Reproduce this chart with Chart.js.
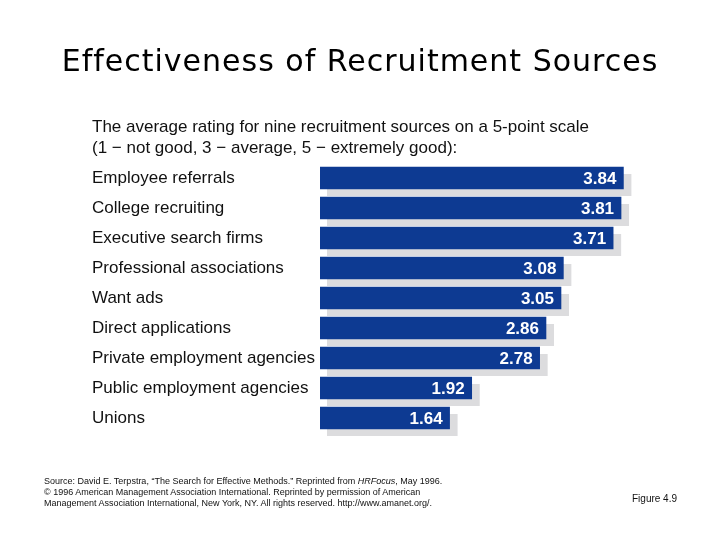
<!DOCTYPE html>
<html>
<head>
<meta charset="utf-8">
<script src="https://cdn.jsdelivr.net/npm/chart.js@4"></script>
<style>
    body { margin: 0; background: #fff; }
    #wrap { position: relative; width: 720px; height: 540px; overflow: hidden; }
    #myChart { position: absolute; left: 0; top: 0; }
    .txt { position: absolute; white-space: nowrap; color: #111; }
    #title { left: 0; width: 720px; top: 43px; text-align: center; font: 30px "DejaVu Sans", sans-serif; letter-spacing: 1px; color: #000; }
    #subtitle { left: 92px; top: 116px; font: 17px "Liberation Sans", Arial, sans-serif; line-height: 21px; }
    #source { left: 44px; top: 476px; font: 9px "Liberation Sans", Arial, sans-serif; line-height: 11px; }
    #figure { left: 632px; top: 493px; font: 10px "Liberation Sans", Arial, sans-serif; }
</style>
</head>
<body>
<div id="wrap">
    <canvas id="myChart" width="720" height="540"></canvas>
    <div class="txt" id="title">Effectiveness of Recruitment Sources</div>
    <div class="txt" id="subtitle">The average rating for nine recruitment sources on a 5-point scale<br>(1 &minus; not good, 3 &minus; average, 5 &minus; extremely good):</div>
    <div class="txt" id="source">Source: David E. Terpstra, &ldquo;The Search for Effective Methods.&rdquo; Reprinted from <i>HRFocus</i>, May 1996.<br>&copy; 1996 American Management Association International. Reprinted by permission of American<br>Management Association International, New York, NY. All rights reserved. http://www.amanet.org/.</div>
    <div class="txt" id="figure">Figure 4.9</div>
</div>
<script>
// Chart data
const sources = [
    'Employee referrals',
    'College recruiting',
    'Executive search firms',
    'Professional associations',
    'Want ads',
    'Direct applications',
    'Private employment agencies',
    'Public employment agencies',
    'Unions'
];
const ratings = [3.84, 3.81, 3.71, 3.08, 3.05, 2.86, 2.78, 1.92, 1.64];

// Gray drop shadow behind each bar
const shadowPlugin = {
    id: 'barShadow',
    beforeDatasetsDraw(chart) {
        const ctx = chart.ctx;
        ctx.save();
        ctx.fillStyle = '#dcdcde';
        chart.getDatasetMeta(0).data.forEach(bar => {
            const h = bar.height;
            ctx.fillRect(bar.base + 7, bar.y - h / 2 + 7, bar.x - bar.base + 1, h);
        });
        ctx.restore();
    }
};

// White value labels inside the bar ends
const valuePlugin = {
    id: 'barValues',
    afterDatasetsDraw(chart) {
        const ctx = chart.ctx;
        ctx.save();
        ctx.fillStyle = '#ffffff';
        ctx.font = 'bold 17px "Liberation Sans", Arial, sans-serif';
        ctx.textAlign = 'right';
        ctx.textBaseline = 'middle';
        chart.getDatasetMeta(0).data.forEach((bar, i) => {
            ctx.fillText(ratings[i].toFixed(2), bar.x - 7, bar.y + 1);
        });
        ctx.restore();
    }
};

const ctx = document.getElementById('myChart').getContext('2d');
new Chart(ctx, {
    type: 'bar',
    data: {
        labels: sources,
        datasets: [{
            data: ratings,
            backgroundColor: '#0d3a92',
            barThickness: 22
        }]
    },
    options: {
        indexAxis: 'y',
        responsive: false,
        animation: false,
        layout: { padding: { left: 92, right: 80, top: 163, bottom: 107 } },
        plugins: { legend: { display: false }, tooltip: { enabled: false } },
        scales: {
            x: {
                min: 0,
                max: 4.05,
                display: false,
                grid: { display: false }
            },
            y: {
                grid: { display: false },
                border: { display: false },
                afterFit(scale) { scale.width = 228; },
                ticks: {
                    crossAlign: 'far',
                    color: '#111',
                    font: { family: '"Liberation Sans", Arial, sans-serif', size: 17 },
                    padding: 0
                }
            }
        }
    },
    plugins: [shadowPlugin, valuePlugin]
});
</script>
</body>
</html>
